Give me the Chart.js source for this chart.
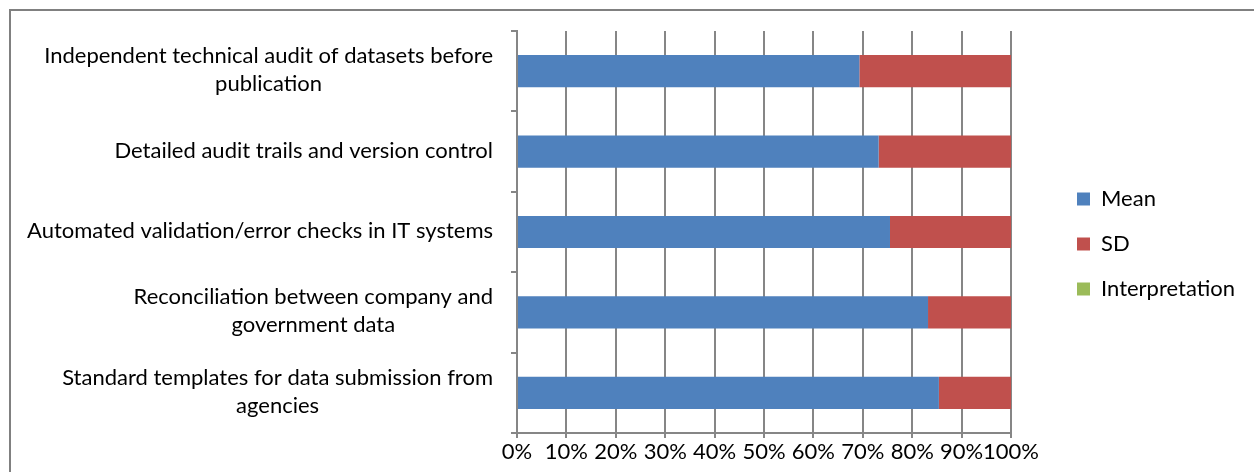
<!DOCTYPE html>
<html>
<head>
<meta charset="utf-8">
<script src="https://cdn.jsdelivr.net/npm/chart.js@4.4.1/dist/chart.umd.min.js"></script>
<style>
  html, body { margin: 0; padding: 0; background: #fff; overflow: hidden; }
  #wrap { width: 1254px; height: 472px; }
</style>
</head>
<body>
<div id="wrap"><canvas id="chart" width="1254" height="472"></canvas></div>
<script>
// categories, top to bottom
const categories = [
  ['Independent technical audit of datasets before', 'publication'],
  ['Detailed audit trails and version control'],
  ['Automated validation/error checks in IT systems'],
  ['Reconciliation between company and', 'government data'],
  ['Standard templates for data submission from', 'agencies']
];
// share of each bar (100% stacked)
const meanShare = [69.3, 73.2, 75.5, 83.2, 85.4];
const sdShare = [30.7, 26.8, 24.5, 16.8, 14.6];
const interpretationShare = [0, 0, 0, 0, 0];
const xTicks = [0, 10, 20, 30, 40, 50, 60, 70, 80, 90, 100];

const FONT = 'Lato';
const FS = 22;
const GRID = '#868686';

// y labels: right-aligned block, lines centred in the block (like Excel)
const yLabelPlugin = {
    id: 'yLabels',
    afterDraw(chart) {
        const ctx = chart.ctx;
        const scale = chart.scales.y;
        ctx.save();
        ctx.font = FS + 'px ' + FONT;
        ctx.fillStyle = '#000';
        ctx.textAlign = 'center';
        ctx.textBaseline = 'middle';
        categories.forEach((lines, i) => {
            const yc = scale.getPixelForValue(i) - 1;
            const w = Math.max(...lines.map(l => ctx.measureText(l).width));
            const xc = 493 - w / 2;
            const lh = 28;
            lines.forEach((l, j) => {
                ctx.fillText(l, xc, yc - (lines.length - 1) * lh / 2 + j * lh);
            });
        });
        ctx.restore();
    }
};

// outer frame
const framePlugin = {
    id: 'frame',
    beforeDraw(chart) {
        const ctx = chart.ctx;
        ctx.save();
        ctx.strokeStyle = '#808080';
        ctx.lineWidth = 2;
        ctx.beginPath();
        ctx.moveTo(10, 480);
        ctx.lineTo(10, 10);
        ctx.lineTo(1260, 10);
        ctx.stroke();
        ctx.restore();
    }
};

new Chart(document.getElementById('chart'), {
    type: 'bar',
    data: {
        labels: categories,
        datasets: [
            { label: 'Mean', data: meanShare, backgroundColor: '#4F81BD' },
            { label: 'SD', data: sdShare, backgroundColor: '#C0504D' },
            { label: 'Interpretation', data: interpretationShare, backgroundColor: '#9BBB59' }
        ]
    },
    options: {
        indexAxis: 'y',
        responsive: false,
        animation: false,
        events: [],
        layout: { padding: { top: 31, left: 0, right: 9, bottom: 0 } },
        datasets: { bar: { categoryPercentage: 1, barPercentage: 0.4, borderWidth: 0 } },
        scales: {
            x: {
                stacked: true,
                min: 0,
                max: 100,
                afterBuildTicks: (s) => { s.ticks = xTicks.map(v => ({ value: v })); },
                afterFit: (s) => { s.height = 39; },
                grid: { color: GRID, lineWidth: 2, tickLength: 5 },
                border: { color: GRID, width: 2 },
                ticks: {
                    padding: 1,
                    color: '#000',
                    font: { family: FONT, size: FS },
                    maxRotation: 0,
                    autoSkip: false,
                    callback: (v) => v + '%'
                }
            },
            y: {
                stacked: true,
                afterFit: (s) => { s.width = 517; },
                grid: { display: true, drawOnChartArea: false, color: GRID, lineWidth: 2, tickLength: 6 },
                border: { color: GRID, width: 2 },
                ticks: { display: false }
            },
            gap: {
                type: 'category',
                position: 'right',
                afterFit: (s) => { s.width = 43; },
                grid: { display: false },
                border: { display: false },
                ticks: { display: false }
            }
        },
        plugins: {
            legend: {
                position: 'right',
                align: 'center',
                fullSize: false,
                title: { display: true, text: '', padding: 0, font: { family: FONT, size: 20 } },
                labels: {
                    boxWidth: 13,
                    boxHeight: 13,
                    padding: 23,
                    color: '#000',
                    font: { family: FONT, size: FS }
                }
            },
            tooltip: { enabled: false }
        }
    },
    plugins: [framePlugin, yLabelPlugin]
});
</script>
</body>
</html>
